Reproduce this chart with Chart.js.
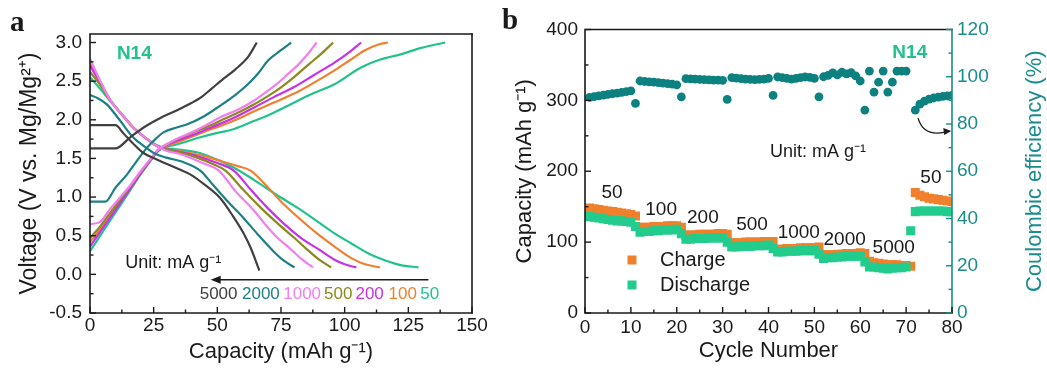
<!DOCTYPE html>
<html>
<head>
<meta charset="utf-8">
<script src="https://cdn.jsdelivr.net/npm/chart.js@4.4.0/dist/chart.umd.min.js"></script>
<style>
  html, body { margin: 0; padding: 0; background: #fff; }
  body { width: 1047px; height: 370px; position: relative; overflow: hidden; }
  .panel { position: absolute; top: 0; height: 370px; overflow: hidden; }
  #wrapA { left: 0; width: 490px; }
  #wrapB { left: 500px; width: 547px; }
</style>
</head>
<body>
<div class="panel" id="wrapA"><canvas id="chartA" width="490" height="370"></canvas></div>
<div class="panel" id="wrapB"><canvas id="chartB" width="547" height="370"></canvas></div>
<script>
// ---- panel a: charge / discharge profiles (capacity mAh/g, voltage V) ----
const rates = ['5000', '2000', '1000', '500', '200', '100', '50'];
const lineColors = ['#404040', '#1c8084', '#f27ef2', '#8a8a1e', '#c832e4', '#f08030', '#22c28e'];

const charge5000 = [[0,1.63],[10,1.63],[16,1.78],[22,1.92],[28,2.03],[34,2.12],[40,2.22],[44,2.3],[48,2.41],[52,2.52],[57,2.65],[62,2.81],[65.5,3.0]];
const charge2000 = [[0,0.94],[6,0.94],[10,1.12],[14.5,1.29],[18,1.45],[22.4,1.64],[26,1.76],[29,1.84],[34,1.9],[38,1.94],[45,2.05],[51,2.18],[57,2.32],[62,2.46],[66,2.6],[70,2.77],[75,2.9],[79,3.0]];
const charge1000 = [[0,0.65],[4,0.68],[8,0.85],[12,1.0],[16,1.16],[20,1.34],[24,1.5],[27,1.62],[30,1.68],[34,1.75],[38,1.81],[45,1.92],[51,2.03],[58,2.13],[64.5,2.25],[70,2.38],[74,2.48],[78,2.6],[82,2.72],[86,2.87],[89,3.0]];
const charge500 = [[0,0.47],[4,0.62],[8,0.8],[12,0.97],[16,1.15],[20,1.33],[24,1.5],[27,1.62],[30,1.68],[35,1.76],[40,1.83],[46,1.91],[52,2.0],[58,2.09],[64.5,2.2],[70,2.31],[75,2.42],[80,2.55],[86,2.72],[91,2.86],[95.5,3.0]];
const charge200 = [[0,0.36],[4,0.55],[8,0.74],[12,0.93],[16,1.12],[20,1.31],[24,1.49],[27,1.61],[30,1.67],[35,1.74],[40,1.8],[46,1.88],[52,1.96],[58,2.05],[64.5,2.16],[72,2.29],[80,2.42],[88,2.58],[96,2.74],[102,2.88],[106.5,3.0]];
const charge100 = [[0,0.42],[4,0.58],[8,0.76],[12,0.94],[16,1.13],[20,1.32],[24,1.49],[27,1.61],[30,1.66],[35,1.72],[40,1.78],[46,1.86],[52,1.93],[58,2.01],[64.5,2.11],[72,2.22],[82,2.37],[90,2.52],[96,2.64],[102,2.77],[108,2.9],[113,2.97],[117,3.0]];
const charge50 = [[0,0.3],[4,0.5],[8,0.7],[12,0.9],[16,1.1],[20,1.3],[24,1.48],[27,1.6],[30,1.65],[34,1.68],[43,1.77],[50,1.83],[56.6,1.88],[64,1.98],[70,2.06],[76.3,2.16],[86.8,2.33],[96,2.46],[106.6,2.68],[114,2.78],[122.4,2.85],[130,2.93],[139.5,3.0]];

const discharge5000 = [[0,1.93],[10,1.93],[13,1.83],[17,1.69],[21,1.57],[26,1.49],[30,1.43],[35,1.36],[39.5,1.29],[45,1.16],[51,0.99],[56,0.76],[60.5,0.52],[63,0.35],[66.5,0.05]];
const discharge2000 = [[0,2.32],[3,2.28],[6.6,2.2],[11.8,1.99],[17,1.77],[22,1.64],[25,1.57],[30,1.51],[36,1.46],[43.4,1.34],[48,1.17],[53.9,0.95],[60,0.74],[65.8,0.52],[72,0.3],[76,0.18],[80.3,0.09]];
const discharge1000 = [[0,2.79],[4,2.5],[8,2.25],[13,2.05],[17,1.9],[22,1.76],[26.3,1.66],[30,1.6],[35,1.56],[40,1.5],[45,1.43],[50.7,1.34],[57,1.08],[64.5,0.82],[70,0.6],[73.7,0.47],[78,0.35],[83,0.2],[87.5,0.09]];
const discharge500 = [[0,2.62],[4,2.45],[8,2.25],[13,2.05],[17,1.9],[22,1.76],[26.3,1.66],[30,1.62],[36,1.57],[42,1.51],[48,1.43],[53.3,1.34],[60,1.1],[67.1,0.86],[74,0.65],[80.3,0.47],[86,0.3],[90,0.19],[94.7,0.09]];
const discharge200 = [[0,2.7],[4,2.48],[8,2.25],[13,2.05],[17,1.9],[22,1.76],[26.3,1.66],[30,1.62],[36,1.58],[42,1.53],[50,1.44],[56.6,1.34],[63,1.1],[69.7,0.86],[76,0.66],[82.9,0.47],[90,0.32],[96,0.19],[100,0.13],[104.6,0.09]];
const discharge100 = [[0,2.75],[4,2.5],[8,2.25],[13,2.05],[17,1.9],[22,1.76],[26.3,1.66],[30,1.62],[36,1.59],[45,1.53],[52,1.46],[58,1.4],[63.2,1.34],[70,1.12],[76.3,0.9],[83,0.7],[89.5,0.52],[96,0.36],[102.6,0.21],[108,0.13],[113.8,0.09]];
const discharge50 = [[0,2.55],[4,2.4],[8,2.24],[13,2.05],[17,1.9],[22,1.76],[26.3,1.67],[30,1.63],[36,1.61],[42,1.58],[48,1.51],[56.6,1.38],[64.5,1.22],[73.7,1.02],[82,0.85],[89.5,0.68],[96,0.53],[102.6,0.4],[110,0.26],[116,0.18],[122,0.12],[129,0.09]];

const chargeCurves = [charge5000, charge2000, charge1000, charge500, charge200, charge100, charge50];
const dischargeCurves = [discharge5000, discharge2000, discharge1000, discharge500, discharge200, discharge100, discharge50];
const capacityTicks = [0, 25, 50, 75, 100, 125, 150];
const voltageTicks = [-0.5, 0, 0.5, 1, 1.5, 2, 2.5, 3];

// ---- panel b: rate capability ----
const cycles = [1,2,3,4,5,6,7,8,9,10,11,12,13,14,15,16,17,18,19,20,21,22,23,24,25,26,27,28,29,30,31,32,33,34,35,36,37,38,39,40,
  41,42,43,44,45,46,47,48,49,50,51,52,53,54,55,56,57,58,59,60,61,62,63,64,65,66,67,68,69,70,71,72,73,74,75,76,77,78,79,80];
const chargeCap = [148,147,146,145,144,143,142,141,140,139,
  137,121,121,121,122,122,122,123,123,123,
  121,110,110,110,111,111,111,111,112,112,
  111,99,99,99,100,100,100,100,101,101,
  101,90,90,91,91,91,92,92,92,92,
  93,82,82,82,83,83,84,84,84,85,
  84,73,71,70,69,68,68,68,67,67,
  66,170,166,164,162,161,160,159,158,157];
const dischargeCap = [136,135,134,133,132,131,130,130,129,128,
  122,114,115,115,116,116,117,117,117,118,
  112,104,104,105,105,105,106,106,106,106,
  100,93,93,94,94,94,95,95,95,96,
  91,86,86,87,87,87,88,88,88,88,
  83,77,78,78,79,79,80,80,80,80,
  72,65,65,64,63,62,63,64,64,65,
  116,143,144,144,144,144,144,144,143,143];
const coulombicEff = [91.3,91.6,91.9,92.2,92.5,92.8,93.1,93.4,93.7,94.0,
  88.7,98.2,98.0,97.8,97.7,97.5,97.3,97.1,96.9,96.6,
  91.5,99.2,99.1,99.0,98.9,98.8,98.7,98.6,98.6,98.5,
  90.4,99.6,99.4,99.2,99.0,98.9,98.8,98.9,99.0,99.3,
  92.1,99.9,99.6,99.3,99.0,99.3,99.6,99.9,99.7,99.3,
  91.5,100.0,100.6,101.6,100.8,101.9,101.2,101.7,100.4,98.2,
  85.9,102.4,93.5,97.7,102.4,93.5,97.7,102.4,102.4,102.4,
  null,85.9,88.4,89.7,90.5,91.0,91.4,91.7,91.9,92.1];
const cycleTicks = [0, 10, 20, 30, 40, 50, 60, 70, 80];
const capTicksB = [0, 100, 200, 300, 400];
const ceTicks = [0, 20, 40, 60, 80, 100, 120];
const stepRates = ['50', '100', '200', '500', '1000', '2000', '5000', '50'];

const FONT = '"Liberation Sans", Arial, sans-serif';
Chart.defaults.font.family = FONT;
Chart.defaults.color = '#1a1a1a';

function pts(list) { return list.map(p => ({x: p[0], y: p[1]})); }
function mids(t) { const m = []; for (let i = 0; i < t.length - 1; i++) m.push((t[i] + t[i + 1]) / 2); return m; }

// frame + inward ticks
const axisFrame = {
  id: 'axisFrame',
  afterDatasetsDraw(chart, args, o) {
    const ctx = chart.ctx, a = chart.chartArea;
    ctx.save();
    ctx.lineWidth = 1.6;
    ctx.lineCap = 'square';
    ctx.strokeStyle = '#1a1a1a';
    ctx.beginPath();
    ctx.moveTo(a.right, a.top); ctx.lineTo(a.left, a.top); ctx.lineTo(a.left, a.bottom); ctx.lineTo(a.right, a.bottom);
    ctx.stroke();
    ctx.strokeStyle = o.rightColor;
    ctx.beginPath(); ctx.moveTo(a.right, a.top); ctx.lineTo(a.right, a.bottom); ctx.stroke();
    ctx.lineCap = 'butt';
    o.ticks.forEach(t => {
      const s = chart.scales[t.scale];
      ctx.strokeStyle = t.color || '#1a1a1a';
      ctx.lineWidth = 1.4;
      const draw = (v, len) => {
        const p = s.getPixelForValue(v);
        ctx.beginPath();
        if (t.edge === 'bottom') { ctx.moveTo(p, a.bottom); ctx.lineTo(p, a.bottom - len); }
        if (t.edge === 'left') { ctx.moveTo(a.left, p); ctx.lineTo(a.left + len, p); }
        if (t.edge === 'right') { ctx.moveTo(a.right, p); ctx.lineTo(a.right - len, p); }
        ctx.stroke();
      };
      t.values.forEach(v => draw(v, 6));
      mids(t.values).forEach(v => draw(v, 3.5));
    });
    ctx.restore();
  }
};

// free text + arrows placed in data space
const notes = {
  id: 'notes',
  afterDraw(chart, args, o) {
    const ctx = chart.ctx;
    ctx.save();
    (o.texts || []).forEach(t => {
      const xs = chart.scales[t.xs || 'x'], ys = chart.scales[t.ys || 'y'];
      ctx.font = t.font;
      ctx.fillStyle = t.color || '#1a1a1a';
      ctx.textAlign = t.align || 'center';
      ctx.textBaseline = 'middle';
      ctx.fillText(t.text, t.px !== undefined ? t.px : xs.getPixelForValue(t.x), t.py !== undefined ? t.py : ys.getPixelForValue(t.y));
    });
    if (o.draw) o.draw(chart, ctx);
    ctx.restore();
  }
};

// ---------- chart a ----------
const dsA = [];
rates.forEach((r, i) => {
  dsA.push({ label: 'charge ' + r, data: pts(chargeCurves[i]), showLine: true, borderColor: lineColors[i], borderWidth: 2.2, pointRadius: 0, cubicInterpolationMode: 'monotone' });
  dsA.push({ label: 'discharge ' + r, data: pts(dischargeCurves[i]), showLine: true, borderColor: lineColors[i], borderWidth: 2.2, pointRadius: 0, cubicInterpolationMode: 'monotone' });
});

const rateTagX = [50.5, 67.1, 83.3, 97.5, 109.8, 122.8, 133.4];

new Chart(document.getElementById('chartA'), {
  type: 'scatter',
  data: { datasets: dsA },
  options: {
    responsive: false, animation: false, events: [],
    layout: { padding: { left: 0, top: 34, right: 18, bottom: 0 } },
    plugins: {
      legend: { display: false }, tooltip: { enabled: false },
      axisFrame: {
        rightColor: '#1a1a1a',
        ticks: [
          { scale: 'x', edge: 'bottom', values: capacityTicks },
          { scale: 'y', edge: 'left', values: voltageTicks }
        ]
      },
      notes: {
        texts: [
          { text: 'a', px: 10, py: 24, font: 'bold 29px "Liberation Serif", serif', align: 'left' },
          { text: 'N14', x: 17.4, y: 2.86, font: 'bold 19px ' + FONT, color: '#22c28e' },
          { text: 'Unit: mA g\u207B\u00B9', x: 13.8, y: 0.15, font: '18px ' + FONT, align: 'left' }
        ].concat(rates.map((r, i) => ({ text: r, x: rateTagX[i], y: -0.26, font: '17px ' + FONT, color: lineColors[i] }))),
        draw(chart, ctx) {
          const xs = chart.scales.x, ys = chart.scales.y;
          const y = ys.getPixelForValue(-0.07), x1 = xs.getPixelForValue(132.9), x0 = xs.getPixelForValue(47.4);
          ctx.strokeStyle = '#1a1a1a'; ctx.fillStyle = '#1a1a1a'; ctx.lineWidth = 1.5;
          ctx.beginPath(); ctx.moveTo(x1, y); ctx.lineTo(x0 + 6, y); ctx.stroke();
          ctx.beginPath(); ctx.moveTo(x0, y); ctx.lineTo(x0 + 10, y - 4); ctx.lineTo(x0 + 10, y + 4); ctx.closePath(); ctx.fill();
        }
      }
    },
    scales: {
      x: {
        type: 'linear', min: 0, max: 150,
        afterFit: s => { s.height = 57; },
        afterBuildTicks: s => { s.ticks = capacityTicks.map(v => ({ value: v })); },
        grid: { display: false, drawTicks: false }, border: { display: false },
        ticks: { padding: 1, font: { size: 19 }, color: '#1a1a1a' },
        title: { display: true, text: 'Capacity (mAh g\u207B\u00B9)', font: { size: 22 }, color: '#1a1a1a', padding: { top: 0, bottom: 5 } }
      },
      y: {
        type: 'linear', min: -0.5, max: 3.11,
        afterFit: s => { s.width = 90; },
        afterBuildTicks: s => { s.ticks = voltageTicks.map(v => ({ value: v })); },
        grid: { display: false, drawTicks: false }, border: { display: false },
        ticks: { padding: 8, font: { size: 19 }, color: '#1a1a1a', callback: v => v.toFixed(1) },
        title: { display: true, text: 'Voltage (V vs. Mg/Mg\u00B2\u207A)', font: { size: 23 }, color: '#1a1a1a', padding: { top: 16, bottom: 0 } }
      }
    }
  },
  plugins: [axisFrame, notes]
});

// ---------- chart b ----------
const toXY = vals => cycles.map((c, i) => ({ x: c, y: vals[i] })).filter(p => p.y !== null);
const ORANGE = '#f0802c', MINT = '#22cc8c', TEAL = '#0d8080', AXTEAL = '#1a8c8c';

const stepTagPos = [[5.9, 170], [16.6, 145], [25.7, 134], [36.4, 124], [46.6, 112.7], [56.6, 103], [67.3, 91.5], [75.4, 191]];

new Chart(document.getElementById('chartB'), {
  type: 'scatter',
  data: {
    datasets: [
      { label: 'Discharge', data: toXY(dischargeCap), order: 0, pointStyle: 'rect', pointRadius: 6.4, pointBorderWidth: 0, backgroundColor: MINT, borderColor: MINT },
      { label: 'Charge', data: toXY(chargeCap), order: 1, pointStyle: 'rect', pointRadius: 6.4, pointBorderWidth: 0, backgroundColor: ORANGE, borderColor: ORANGE },
      { label: 'Coulombic efficiency', data: toXY(coulombicEff), yAxisID: 'y1', order: 2, pointStyle: 'circle', pointRadius: 4.4, pointBorderWidth: 0, backgroundColor: TEAL, borderColor: TEAL }
    ]
  },
  options: {
    responsive: false, animation: false, events: [],
    layout: { padding: { left: 0, top: 29.5, right: 0, bottom: 0 } },
    plugins: {
      legend: { display: false }, tooltip: { enabled: false },
      axisFrame: {
        rightColor: AXTEAL,
        ticks: [
          { scale: 'x', edge: 'bottom', values: cycleTicks },
          { scale: 'y', edge: 'left', values: capTicksB },
          { scale: 'y1', edge: 'right', values: ceTicks, color: AXTEAL }
        ]
      },
      notes: {
        texts: [
          { text: 'b', px: 2, py: 22, font: 'bold 29px "Liberation Serif", serif', align: 'left' },
          { text: 'N14', x: 70.8, y: 367.6, font: 'bold 19px ' + FONT, color: '#22c28e' },
          { text: 'Unit: mA g\u207B\u00B9', x: 40.3, y: 226.8, font: '18px ' + FONT, align: 'left' }
        ].concat(stepRates.map((r, i) => ({ text: r, x: stepTagPos[i][0], y: stepTagPos[i][1], font: '19px ' + FONT }))),
        draw(chart, ctx) {
          const a = chart.chartArea, xs = chart.scales.x, y1 = chart.scales.y1;
          // legend
          ctx.font = '20px ' + FONT; ctx.textAlign = 'left'; ctx.textBaseline = 'middle';
          [['Charge', ORANGE, 260], ['Discharge', MINT, 285]].forEach(([t, c, yy]) => {
            ctx.fillStyle = c; ctx.fillRect(a.left + 42.5, yy - 4.5, 9, 9);
            ctx.fillStyle = '#1a1a1a'; ctx.fillText(t, a.left + 75, yy);
          });
          // right-axis title, read bottom to top
          ctx.save();
          ctx.translate(535, (a.top + a.bottom) / 2);
          ctx.rotate(-Math.PI / 2);
          ctx.font = '22px ' + FONT; ctx.fillStyle = AXTEAL; ctx.textAlign = 'center';
          ctx.fillText('Coulombic efficiency (%)', 0, 0);
          ctx.restore();
          // curved arrow pointing to the right axis
          const sx = xs.getPixelForValue(72.6), sy = y1.getPixelForValue(82.5);
          const cx = xs.getPixelForValue(73.8), cy = y1.getPixelForValue(74.5);
          const ex = xs.getPixelForValue(79.4), ey = y1.getPixelForValue(76.6);
          ctx.strokeStyle = '#1a1a1a'; ctx.fillStyle = '#1a1a1a'; ctx.lineWidth = 1.3;
          ctx.beginPath(); ctx.moveTo(sx, sy); ctx.quadraticCurveTo(cx, cy, ex - 4, ey); ctx.stroke();
          ctx.beginPath(); ctx.moveTo(ex + 2, ey - 1); ctx.lineTo(ex - 6, ey - 4); ctx.lineTo(ex - 5, ey + 3); ctx.closePath(); ctx.fill();
        }
      }
    },
    scales: {
      x: {
        type: 'linear', min: 0, max: 80,
        afterFit: s => { s.height = 57; },
        afterBuildTicks: s => { s.ticks = cycleTicks.map(v => ({ value: v })); },
        grid: { display: false, drawTicks: false }, border: { display: false },
        ticks: { padding: 3, font: { size: 19 }, color: '#1a1a1a' },
        title: { display: true, text: 'Cycle Number', font: { size: 22 }, color: '#1a1a1a', padding: { top: 0, bottom: 6 } }
      },
      y: {
        type: 'linear', position: 'left', min: 0, max: 400,
        afterFit: s => { s.width = 85; },
        afterBuildTicks: s => { s.ticks = capTicksB.map(v => ({ value: v })); },
        grid: { display: false, drawTicks: false }, border: { display: false },
        ticks: { padding: 7, font: { size: 19 }, color: '#1a1a1a' },
        title: { display: true, text: 'Capacity (mAh g\u207B\u00B9)', font: { size: 22 }, color: '#1a1a1a', padding: { top: 12, bottom: 0 } }
      },
      y1: {
        type: 'linear', position: 'right', min: 0, max: 120,
        afterFit: s => { s.width = 95; },
        afterBuildTicks: s => { s.ticks = ceTicks.map(v => ({ value: v })); },
        grid: { display: false, drawTicks: false }, border: { display: false },
        ticks: { padding: 5, font: { size: 19 }, color: AXTEAL },
        title: { display: false }
      }
    }
  },
  plugins: [axisFrame, notes]
});
</script>
</body>
</html>
